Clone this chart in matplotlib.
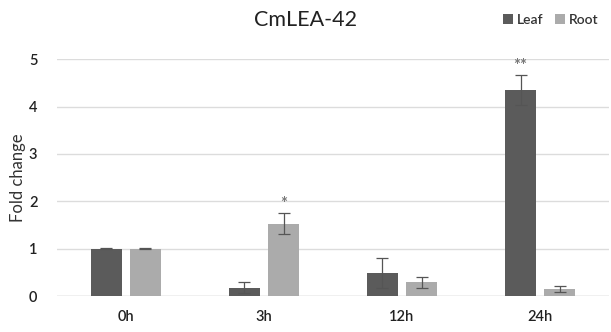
import numpy as np
import matplotlib.pyplot as plt

plt.rcParams['font.family'] = ['Lato', 'DejaVu Sans']

times = ['0h', '3h', '12h', '24h']
leaf = [1.0, 0.18, 0.49, 4.35]
leaf_err = [0.01, 0.11, 0.31, 0.31]
root = [1.0, 1.53, 0.29, 0.15]
root_err = [0.01, 0.22, 0.12, 0.07]
# significance marks: (category index, series, label)
marks = [(1, 'root', '*'), (3, 'leaf', '**')]

leaf_color = '#5b5b5b'
root_color = '#ababab'

fig = plt.figure(figsize=(6.11, 3.32), dpi=100)
ax = fig.add_axes([0.093, 0.108, 0.904, 0.714])

x = np.arange(len(times))
w = 0.225
off = 0.142
ax.bar(x - off, leaf, w, color=leaf_color, label='Leaf', zorder=2)
ax.bar(x + off, root, w, color=root_color, label='Root', zorder=2)
ax.errorbar(x - off, leaf, yerr=leaf_err, fmt='none', ecolor='#555555',
            elinewidth=0.9, capsize=4, capthick=0.9, zorder=3)
ax.errorbar(x + off, root, yerr=root_err, fmt='none', ecolor='#555555',
            elinewidth=0.9, capsize=4, capthick=0.9, zorder=3)

for i, s, lab in marks:
    if s == 'leaf':
        xp, top = x[i] - off, leaf[i] + leaf_err[i]
    else:
        xp, top = x[i] + off, root[i] + root_err[i]
    ax.text(xp, top + 0.02, lab, ha='center', va='bottom', fontsize=12,
            color='#777777', fontweight='bold')

ax.set_xlim(-0.5, 3.5)
ax.set_ylim(0, 5)
ax.set_yticks(range(6))
ax.set_xticks(x)
ax.set_xticklabels(times)
ax.tick_params(length=0, labelsize=10.5, colors='#222222')
for lbl in ax.get_xticklabels() + ax.get_yticklabels():
    lbl.set_fontweight('semibold')
ax.tick_params(axis='x', pad=10)
ax.tick_params(axis='y', pad=14)
ax.grid(axis='y', color='#dcdcdc', linewidth=1, zorder=0)
for sp in ax.spines.values():
    sp.set_visible(False)
ax.axhline(0, color='#d0d0d0', linewidth=1, zorder=1)

ax.set_ylabel('Fold change', fontsize=12, color='#333333', labelpad=2)
fig.text(0.5, 0.94, 'CmLEA-42', ha='center', va='center', fontsize=15.5,
         color='#222222')
fig.legend(loc='upper right', bbox_to_anchor=(1.0, 0.995), ncol=2,
           frameon=False, fontsize=10,
           prop={'weight': 'semibold', 'size': 10},
           handlelength=0.7, handleheight=0.7,
           handletextpad=0.3, columnspacing=0.8, labelcolor='#333333')

fig.savefig('out.png', dpi=100)
